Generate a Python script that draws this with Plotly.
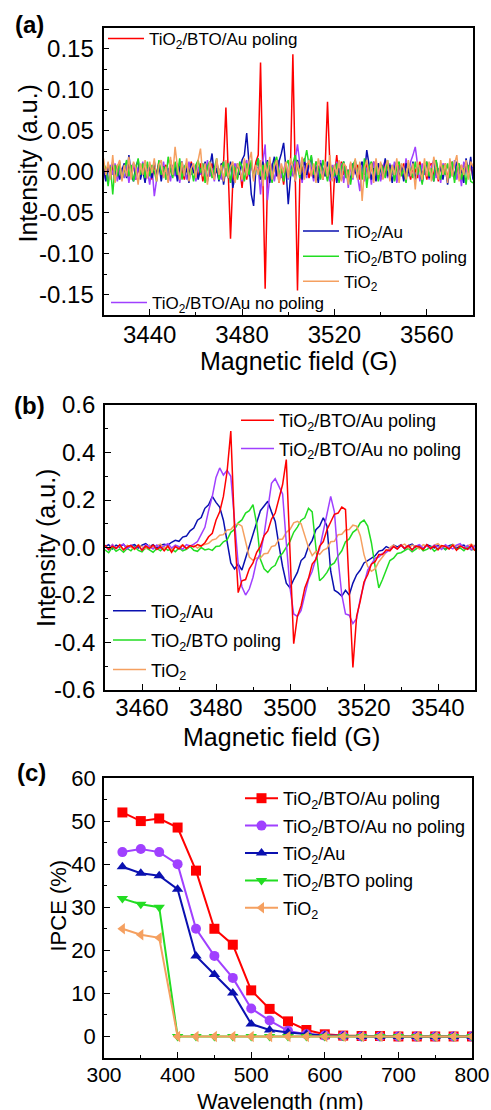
import plotly.graph_objects as go

# ---------------- data ----------------
# Panel (a): EPR spectra, field grid in G
a_field = list(range(3420, 3581))
a_bto_au_poling = [
    0.004, -0.008, 0.010, -0.004, 0.006, -0.012, 0.008, 0.002, -0.010, 0.006,
    -0.006, 0.010, -0.002, 0.008, -0.010, 0.004, -0.006, 0.010, 0.000, -0.008,
    0.006, -0.010, 0.008, -0.004, 0.012, -0.006, 0.002, 0.008, -0.012, 0.004,
    -0.004, 0.010, -0.008, 0.006, 0.002, -0.010, 0.008, -0.006, 0.012, -0.002,
    0.006, -0.008, 0.010, -0.012, 0.004, 0.008, -0.006, 0.010, -0.004, 0.002,
    -0.010, 0.008, 0.012, 0.078, 0.000, -0.082, -0.012, 0.006, -0.008, 0.004,
    -0.020, 0.008, -0.010, 0.006, 0.010, -0.006, 0.012, 0.020, 0.133, 0.000,
    -0.143, -0.010, 0.008, -0.012, 0.006, 0.010, -0.014, 0.004, -0.016, 0.008,
    -0.006, 0.010, 0.143, 0.000, -0.145, -0.010, 0.006, -0.004, 0.010, -0.008,
    0.004, -0.006, 0.012, -0.004, 0.008, -0.010, 0.006, 0.085, 0.010, -0.065,
    -0.006, 0.020, -0.010, 0.012, -0.004, 0.006, -0.008, 0.010, -0.006, 0.004,
    0.008, -0.010, 0.006, -0.004, 0.010, -0.008, 0.004, 0.012, -0.006, 0.002,
    -0.010, 0.008, -0.004, 0.010, -0.008, 0.006, 0.002, -0.012, 0.008, -0.004,
    0.010, -0.006, 0.004, -0.010, 0.008, 0.002, -0.008, 0.012, -0.004, 0.006,
    -0.010, 0.006, 0.010, -0.006, 0.004, -0.012, 0.008, -0.002, 0.010, -0.008,
    0.004, 0.012, -0.010, 0.006, -0.004, 0.008, -0.008, 0.014, -0.006, 0.010,
    -0.008]
a_bto_au_nopoling = [
    -0.010, 0.004, -0.014, 0.008, -0.004, 0.010, -0.012, 0.006, 0.002, -0.008,
    0.008, -0.014, 0.004, 0.010, -0.010, 0.006, -0.006, 0.012, -0.012, 0.002,
    -0.016, 0.006, -0.030, -0.008, 0.010, -0.004, 0.012, -0.010, 0.004, -0.012,
    0.008, -0.006, 0.010, -0.014, 0.006, 0.002, -0.010, 0.012, -0.004, 0.008,
    -0.012, 0.006, -0.004, 0.010, -0.008, 0.014, -0.006, 0.004, -0.012, 0.010,
    0.002, -0.010, 0.012, -0.006, 0.008, -0.014, 0.004, 0.010, -0.008, 0.006,
    -0.012, 0.008, 0.014, -0.006, 0.010, -0.010, 0.006, 0.004, -0.028, 0.012,
    0.033, -0.035, -0.006, 0.010, -0.012, 0.006, 0.014, -0.008, 0.004, 0.012,
    -0.010, 0.008, -0.006, 0.016, 0.033, 0.010, -0.014, 0.006, -0.008, 0.012,
    0.004, -0.012, 0.010, -0.006, 0.014, -0.010, 0.006, 0.002, -0.012, 0.008,
    -0.008, 0.012, -0.004, 0.010, -0.014, 0.006, -0.020, 0.008, -0.010, 0.014,
    -0.006, -0.024, 0.010, -0.012, 0.004, 0.008, -0.016, 0.012, -0.006, 0.010,
    -0.012, 0.006, 0.014, -0.008, 0.010, -0.004, 0.012, -0.014, 0.006, 0.008,
    -0.010, 0.016, -0.006, 0.012, 0.020, 0.030, 0.008, -0.012, 0.010, -0.004,
    0.012, -0.010, 0.006, 0.014, -0.008, 0.004, -0.014, 0.010, 0.002, -0.012,
    0.008, -0.006, 0.014, -0.010, 0.006, -0.018, 0.012, 0.004, -0.008, 0.010,
    0.004]
a_tio2_au = [
    0.008, -0.012, 0.004, -0.006, 0.012, -0.004, 0.006, -0.010, 0.002, 0.010,
    -0.008, 0.020, -0.004, -0.012, 0.006, 0.014, -0.010, 0.002, -0.014, 0.008,
    0.004, -0.008, 0.012, -0.006, 0.010, -0.012, 0.006, 0.000, -0.008, 0.014,
    -0.004, 0.008, -0.012, 0.006, 0.012, -0.006, 0.004, -0.014, 0.010, -0.002,
    0.008, -0.010, 0.004, -0.004, 0.012, -0.012, 0.006, 0.022, -0.006, 0.004,
    -0.012, 0.010, -0.016, 0.004, -0.008, 0.012, -0.020, -0.006, 0.010, -0.004,
    0.014, 0.020, 0.047, 0.010, -0.028, -0.042, 0.004, 0.016, -0.010, 0.012,
    -0.008, 0.014, -0.014, 0.006, 0.018, -0.006, 0.012, 0.022, 0.035, 0.004,
    -0.040, -0.006, 0.010, -0.012, 0.014, 0.004, -0.010, 0.016, -0.004, 0.008,
    0.018, -0.008, 0.006, -0.014, 0.010, 0.004, -0.006, 0.012, -0.002, -0.010,
    0.008, -0.014, 0.004, -0.010, 0.012, -0.006, 0.002, -0.012, 0.010, 0.000,
    -0.008, 0.006, 0.012, -0.004, 0.026, 0.008, -0.010, 0.004, -0.012, 0.010,
    0.002, -0.008, 0.016, -0.006, 0.008, -0.014, 0.004, 0.012, -0.008, 0.006,
    -0.012, 0.010, 0.000, -0.006, 0.012, -0.010, 0.004, 0.008, -0.014, 0.006,
    0.010, -0.008, 0.004, -0.012, 0.014, -0.004, 0.006, -0.010, 0.008, -0.016,
    0.004, 0.010, -0.008, 0.012, -0.006, 0.002, -0.014, 0.016, -0.004, 0.018,
    -0.010]
a_tio2_bto_poling = [
    0.010, 0.004, -0.018, 0.006, -0.028, 0.008, -0.006, 0.012, -0.010, 0.002,
    0.014, -0.006, 0.008, -0.012, 0.004, 0.016, -0.004, 0.010, -0.008, 0.012,
    -0.006, 0.008, 0.000, -0.012, 0.014, -0.004, 0.006, -0.010, 0.018, 0.002,
    -0.008, 0.012, -0.004, 0.016, -0.010, 0.006, 0.010, -0.006, 0.004, -0.012,
    0.008, 0.014, -0.002, 0.010, -0.014, 0.006, 0.012, -0.008, 0.004, 0.016,
    -0.010, 0.002, 0.012, -0.006, 0.010, -0.014, 0.008, 0.004, -0.010, 0.012,
    0.006, -0.012, 0.010, -0.004, 0.014, -0.008, 0.002, 0.016, -0.006, 0.008,
    -0.010, 0.012, 0.004, -0.014, 0.010, 0.018, -0.004, 0.006, -0.012, 0.008,
    0.014, -0.006, 0.010, 0.020, 0.004, -0.008, 0.016, 0.012, 0.026, 0.008,
    0.020, -0.004, 0.012, 0.006, -0.010, 0.014, 0.002, -0.012, 0.008, 0.004,
    -0.006, 0.010, -0.014, 0.006, 0.012, -0.008, 0.002, -0.016, 0.008, 0.014,
    -0.004, 0.010, -0.010, 0.016, -0.020, 0.006, 0.012, -0.006, 0.008, -0.012,
    0.010, 0.004, -0.008, 0.014, -0.004, 0.008, -0.012, 0.006, 0.012, -0.006,
    0.004, -0.014, 0.010, 0.002, -0.008, 0.012, -0.004, 0.008, -0.016, 0.006,
    0.012, -0.006, 0.004, -0.012, 0.014, 0.000, -0.010, 0.008, -0.004, 0.010,
    -0.008, 0.012, -0.014, 0.006, 0.010, -0.010, 0.004, -0.016, 0.008, -0.012,
    -0.014]
a_tio2 = [
    0.016, -0.004, 0.012, -0.010, 0.020, -0.014, 0.006, 0.014, -0.012, 0.008,
    -0.006, 0.018, -0.010, 0.012, 0.004, -0.016, 0.010, -0.004, 0.014, -0.008,
    0.012, -0.002, 0.016, -0.012, 0.008, 0.014, -0.008, 0.006, -0.014, 0.018,
    -0.004, 0.030, 0.006, -0.010, 0.012, -0.006, 0.016, -0.012, 0.004, 0.010,
    -0.008, 0.014, 0.028, -0.006, 0.010, -0.016, 0.012, 0.002, -0.010, 0.016,
    -0.004, 0.008, -0.012, 0.014, -0.008, 0.006, 0.012, -0.014, 0.010, 0.002,
    -0.010, 0.016, -0.006, 0.012, 0.024, -0.012, 0.008, -0.004, 0.014, -0.018,
    0.010, -0.006, 0.018, -0.010, 0.006, 0.014, -0.014, 0.010, -0.002, 0.012,
    -0.008, 0.016, 0.006, -0.012, 0.012, -0.004, 0.018, -0.010, 0.008, 0.014,
    -0.006, 0.010, -0.014, 0.016, 0.004, -0.010, 0.012, -0.006, 0.020, -0.012,
    0.008, -0.004, 0.014, -0.012, 0.010, 0.006, -0.016, 0.012, -0.008, 0.016,
    -0.010, 0.012, -0.036, 0.004, 0.014, -0.008, 0.010, -0.014, 0.016, -0.004,
    0.012, -0.010, 0.006, 0.014, -0.012, 0.008, -0.004, 0.016, -0.014, 0.010,
    0.004, -0.010, 0.014, -0.006, 0.010, -0.022, 0.012, 0.000, -0.010, 0.016,
    -0.006, 0.012, -0.012, 0.018, 0.004, -0.010, 0.014, -0.004, 0.010, -0.014,
    0.016, -0.006, 0.010, 0.020, -0.012, 0.008, -0.004, 0.014, -0.010, 0.012,
    0.006]

# Panel (b): EPR spectra
b_field = list(range(3450, 3551))
b_bto_au_poling = [
    0.010, -0.008, 0.006, -0.004, 0.012, -0.010, 0.004, 0.008, -0.006, 0.010,
    -0.012, 0.006, -0.004, 0.010, -0.008, 0.004, -0.014, 0.006, -0.020, 0.004,
    -0.006, 0.010, -0.004, 0.008, 0.002, 0.012, 0.006,
    0.020, 0.045, 0.060, 0.115, 0.150, 0.215, 0.320, 0.490, 0.080, -0.190,
    -0.140, -0.135, -0.090, -0.065, -0.020, 0.005, 0.050, 0.070, 0.120, 0.145,
    0.210, 0.265, 0.370, -0.020, -0.405, -0.290, -0.245, -0.170, -0.130, -0.070,
    -0.050, 0.005, 0.025, 0.075, 0.105, 0.140, 0.145, 0.170, 0.160, -0.170,
    -0.505, -0.290, -0.225, -0.145, -0.115, -0.070, -0.060, -0.030, -0.030, -0.010,
    -0.014, 0.004,
    -0.006, 0.010, -0.004, 0.008, -0.010, 0.006, 0.002, -0.008, 0.012, -0.004,
    0.006, -0.010, 0.008, 0.004, -0.006, 0.010, -0.012, 0.006, 0.000, -0.008,
    0.010, -0.014]
b_bto_au_nopoling = [
    0.006, -0.010, 0.012, -0.004, 0.008, 0.014, -0.006, 0.010, -0.002, 0.006,
    -0.010, 0.012, 0.004, -0.006, 0.010, -0.004, 0.008, 0.016, -0.002, 0.010,
    0.004, -0.008, 0.012, 0.006, 0.014,
    0.025, 0.055, 0.085, 0.155, 0.215, 0.295, 0.335, 0.305, 0.325, 0.300,
    0.120, -0.070, -0.165, -0.200, -0.175, -0.125, -0.055, -0.025, 0.055, 0.165,
    0.270, 0.290, 0.255, 0.225, 0.020, -0.170, -0.280, -0.290, -0.265, -0.205,
    -0.135, -0.100, -0.045, -0.005, 0.065, 0.135, 0.215, 0.150, -0.050, -0.200,
    -0.280, -0.285, -0.320, -0.300, -0.215, -0.155, -0.095, -0.070, -0.045, -0.040,
    -0.025, -0.020, -0.008,
    0.004, -0.006, 0.010, -0.002, 0.008, -0.010, 0.006, 0.012, -0.004, 0.008,
    -0.006, 0.010, 0.004, -0.008, 0.012, 0.002, -0.006, 0.010, 0.016, -0.004,
    0.008, -0.010, 0.006]
b_tio2_au = [
    0.004, 0.012, -0.006, 0.010, 0.002, 0.014, -0.004, 0.008, 0.012, -0.002,
    0.010, 0.016, 0.004, 0.012, -0.002, 0.010, 0.014,
    0.010, 0.022, 0.030, 0.026, 0.044, 0.048, 0.070, 0.082, 0.115, 0.126,
    0.165, 0.180, 0.215, 0.190, 0.170, 0.115, 0.020, -0.065, -0.090, -0.070,
    -0.095, -0.045, 0.000, 0.055, 0.095, 0.155, 0.175, 0.195, 0.150, 0.110,
    0.010, -0.080, -0.150, -0.170, -0.135, -0.105, -0.055, -0.040, 0.005, 0.030,
    0.075, 0.090, 0.125, 0.090, -0.100, -0.180, -0.190, -0.205, -0.180, -0.200,
    -0.150, -0.115, -0.095, -0.065, -0.055, -0.045, -0.035, -0.015, -0.012,
    0.004, -0.004, 0.010, 0.002, 0.012, -0.006, 0.008, 0.014, 0.000, 0.010,
    -0.004, 0.012, 0.006, -0.002, 0.010, 0.004, -0.008, 0.008, 0.012, -0.004,
    0.006, 0.010, -0.006, 0.004, 0.008]
b_tio2_bto_poling = [
    -0.010, -0.022, 0.002, -0.016, -0.006, -0.020, -0.004, -0.014, 0.004, -0.012,
    -0.018, 0.000, -0.010, -0.020, -0.004, -0.014, 0.002, -0.012, -0.006, -0.018,
    -0.002, -0.014, -0.008, 0.004, -0.012, -0.016, 0.000, -0.010, -0.006,
    -0.012, 0.004, 0.006, 0.024, 0.032, 0.064, 0.076, 0.104, 0.116, 0.145,
    0.155, 0.180, 0.100, -0.050, -0.090, -0.105, -0.085, -0.075, -0.040, -0.024,
    0.004, 0.026, 0.064, 0.086, 0.115, 0.125, 0.165, 0.150, 0.000, -0.140,
    -0.125, -0.105, -0.075, -0.065, -0.035, -0.014, 0.024, 0.036, 0.064, 0.076,
    0.104, 0.115, 0.090, 0.020, -0.080, -0.170, -0.135, -0.095, -0.055, -0.045,
    -0.025, -0.022,
    -0.012, -0.004, -0.018, -0.006, 0.004, -0.014, -0.008, 0.002, -0.016, -0.004,
    0.006, -0.010, 0.000, 0.012, -0.008, -0.002, -0.014, 0.004, -0.010, -0.006]
b_tio2 = [
    0.008, -0.006, 0.012, -0.002, 0.006, -0.010, 0.010, 0.002, -0.008, 0.012,
    0.004, -0.006, 0.010, -0.004, 0.008, 0.014, -0.002, 0.006, -0.010, 0.008,
    0.002, 0.012, -0.004, 0.006, 0.010, -0.002, 0.008,
    0.014, 0.018, 0.032, 0.036, 0.052, 0.054, 0.074, 0.076, 0.094, 0.100,
    0.090, 0.020, -0.040, -0.054, -0.044, -0.044, -0.026, -0.024, 0.004, 0.008,
    0.034, 0.036, 0.064, 0.076, 0.104, 0.110, 0.100, 0.050, 0.000, -0.034,
    -0.016, -0.029, -0.011, -0.004, 0.024, 0.026, 0.054, 0.056, 0.074, 0.076,
    0.094, 0.090, 0.050, -0.030, -0.080, -0.100, -0.090, -0.060, -0.040, -0.020,
    0.000,
    0.010, -0.004, 0.008, 0.014, -0.002, 0.010, 0.004, -0.006, 0.012, 0.006,
    -0.002, 0.010, 0.016, 0.002, 0.008, -0.004, 0.012, 0.006, 0.010, -0.002,
    0.008, 0.014, 0.004]

# Panel (c): IPCE
c_wavelength = [325, 350, 375, 400, 425, 450, 475, 500, 525, 550,
                575, 600, 625, 650, 675, 700, 725, 750, 775, 800]
c_bto_au_poling = [52.0, 50.0, 50.6, 48.5, 38.5, 25.0, 21.3, 10.7, 6.4, 3.5,
                   1.5, 0.5, 0.2, 0.1, 0.1, 0.0, 0.0, 0.0, 0.0, 0.0]
c_bto_au_nopoling = [42.8, 43.5, 42.8, 40.0, 25.0, 18.7, 13.6, 6.5, 3.7, 1.3,
                     0.5, 0.2, 0.1, 0.0, 0.0, 0.0, 0.0, 0.0, 0.0, 0.0]
c_tio2_au = [39.4, 37.9, 37.3, 34.2, 18.7, 14.4, 10.1, 2.9, 1.5, 0.9,
             0.5, 0.2, 0.1, 0.0, 0.0, 0.0, 0.0, 0.0, 0.0, 0.0]
c_tio2_bto_poling = [32.0, 30.7, 30.0, 0.0, 0.0, 0.0, 0.0, 0.0, 0.0, 0.0,
                     0.0, 0.0, 0.0, 0.0, 0.0, 0.0, 0.0, 0.0, 0.0, 0.0]
c_tio2 = [25.0, 23.6, 22.9, 0.0, 0.0, 0.0, 0.0, 0.0, 0.0, 0.0,
          0.0, 0.0, 0.0, 0.0, 0.0, 0.0, 0.0, 0.0, 0.0, 0.0]

# Tick labels
a_ytick_vals = [-0.15, -0.10, -0.05, 0.00, 0.05, 0.10, 0.15]
a_ytick_text = ["-0.15", "-0.10", "-0.05", "0.00", "0.05", "0.10", "0.15"]
b_ytick_vals = [-0.6, -0.4, -0.2, 0.0, 0.2, 0.4, 0.6]
b_ytick_text = ["-0.6", "-0.4", "-0.2", "0.0", "0.2", "0.4", "0.6"]
c_ytick_vals = [0, 10, 20, 30, 40, 50, 60]

# Series names
N_POL = "TiO<sub>2</sub>/BTO/Au poling"
N_NOPOL = "TiO<sub>2</sub>/BTO/Au no poling"
N_AU = "TiO<sub>2</sub>/Au"
N_BTO = "TiO<sub>2</sub>/BTO poling"
N_TIO2 = "TiO<sub>2</sub>"

RED = "#ff0000"
PURPLE = "#a040ff"
BLUE = "#0a10b0"
GREEN = "#22dd22"
ORANGE = "#f5a060"

FONT = "Arial, 'Liberation Sans', sans-serif"
W, H = 491, 1110


def px_x(p):
    return p / W


def px_y(p):
    return 1 - p / H


fig = go.Figure()

# ---- panel (a) ----
for i, (name, ys, col, lg) in enumerate([
    (N_POL, a_bto_au_poling, RED, "legend"),
    (N_NOPOL, a_bto_au_nopoling, PURPLE, "legend3"),
    (N_AU, a_tio2_au, BLUE, "legend2"),
    (N_BTO, a_tio2_bto_poling, GREEN, "legend2"),
    (N_TIO2, a_tio2, ORANGE, "legend2"),
]):
    fig.add_trace(go.Scatter(x=a_field, y=ys, mode="lines", name=name,
                             line=dict(color=col, width=1.5), showlegend=True,
                             xaxis="x", yaxis="y", legend=lg, legendgroup="a%d" % i))

# ---- panel (b) ----
for i, (name, ys, col, lg, rank) in enumerate([
    (N_AU, b_tio2_au, BLUE, "legend5", 1),
    (N_BTO, b_tio2_bto_poling, GREEN, "legend5", 2),
    (N_TIO2, b_tio2, ORANGE, "legend5", 3),
    (N_NOPOL, b_bto_au_nopoling, PURPLE, "legend4", 5),
    (N_POL, b_bto_au_poling, RED, "legend4", 4),
]):
    fig.add_trace(go.Scatter(x=b_field, y=ys, mode="lines", name=name,
                             line=dict(color=col, width=1.5), showlegend=True,
                             legendrank=rank,
                             xaxis="x2", yaxis="y2", legend=lg, legendgroup="b%d" % i))

# ---- panel (c) ----
for i, (name, ys, col, sym) in enumerate([
    (N_POL, c_bto_au_poling, RED, "square"),
    (N_NOPOL, c_bto_au_nopoling, PURPLE, "circle"),
    (N_AU, c_tio2_au, BLUE, "triangle-up"),
    (N_BTO, c_tio2_bto_poling, GREEN, "triangle-down"),
    (N_TIO2, c_tio2, ORANGE, "triangle-left"),
]):
    fig.add_trace(go.Scatter(x=c_wavelength, y=ys, mode="lines+markers", name=name,
                             line=dict(color=col, width=2), showlegend=True,
                             marker=dict(color=col, symbol=sym, size=10,
                                         line=dict(width=0)),
                             xaxis="x3", yaxis="y3", legend="legend6",
                             legendgroup="c%d" % i))


def axis(**kw):
    d = dict(showline=True, linecolor="black", linewidth=1.8, mirror=True,
             ticks="inside", ticklen=6, tickwidth=1.4, tickcolor="black",
             showgrid=False, zeroline=False, automargin=False,
             tickfont=dict(family=FONT, size=24, color="black"),
             minor=dict(ticks="inside", ticklen=3.5, tickwidth=1.2,
                        tickcolor="black", showgrid=False))
    for k, v in kw.items():
        if k == "minor":
            d["minor"].update(v)
        else:
            d[k] = v
    return d


fig.update_layout(
    width=W, height=H,
    showlegend=True,
    margin=dict(l=0, r=0, t=0, b=0, autoexpand=False),
    paper_bgcolor="white", plot_bgcolor="white",
    font=dict(family=FONT, color="black"),
    xaxis=axis(domain=[px_x(103.5), px_x(473)], anchor="y", range=[3420, 3580],
               tick0=3440, dtick=40, minor=dict(dtick=20, tick0=3420),
               ticklabelstandoff=-3),
    yaxis=axis(domain=[px_y(315), px_y(28)], anchor="x", range=[-0.175, 0.175],
               tickvals=a_ytick_vals, ticktext=a_ytick_text,
               minor=dict(dtick=0.025, tick0=0), ticklabelstandoff=3),
    xaxis2=axis(domain=[px_x(105), px_x(475)], anchor="y2", range=[3450, 3550],
                tick0=3460, dtick=20, minor=dict(dtick=10, tick0=3450),
                ticklabelstandoff=-5),
    yaxis2=axis(domain=[px_y(690), px_y(405)], anchor="x2", range=[-0.6, 0.6],
                tickvals=b_ytick_vals, ticktext=b_ytick_text,
                minor=dict(dtick=0.1, tick0=0), ticklabelstandoff=3),
    xaxis3=axis(domain=[px_x(104), px_x(472)], anchor="y3", range=[300, 800],
                tick0=300, dtick=100, minor=dict(dtick=50, tick0=300),
                tickfont=dict(family=FONT, size=21, color="black"),
                ticklabelstandoff=-3),
    yaxis3=axis(domain=[px_y(1058), px_y(778)], anchor="x3", range=[-5, 60],
                tickvals=c_ytick_vals, minor=dict(dtick=5, tick0=0),
                tickfont=dict(family=FONT, size=22, color="black"),
                ticklabelstandoff=2),
)

leg_common = dict(bgcolor="rgba(0,0,0,0)", borderwidth=0, xanchor="left", yanchor="top",
                  font=dict(family=FONT, size=17, color="black"), itemwidth=33,
                  traceorder="grouped", tracegroupgap=0, visible=True)
leg18 = dict(family=FONT, size=18, color="black")
fig.update_layout(
    legend=dict(leg_common, x=px_x(103), y=px_y(21), itemwidth=36),
    legend2=dict(leg_common, x=px_x(298), y=px_y(213.5), itemwidth=36),
    legend3=dict(leg_common, x=px_x(106), y=px_y(285), itemwidth=36),
    legend4=dict(leg_common, x=px_x(236), y=px_y(402), tracegroupgap=2, font=leg18),
    legend5=dict(leg_common, x=px_x(108), y=px_y(592.5), tracegroupgap=3, font=leg18),
    legend6=dict(leg_common, x=px_x(240), y=px_y(780), tracegroupgap=1, font=leg18),
)

# panel letters
for txt, cx, cy in [("(a)", 29, 25), ("(b)", 29, 405), ("(c)", 31, 772)]:
    fig.add_annotation(text="<b>" + txt + "</b>", xref="paper", yref="paper",
                       x=px_x(cx), y=px_y(cy), xanchor="center", yanchor="middle",
                       showarrow=False, font=dict(family=FONT, size=24, color="black"))

# axis titles
for txt, cx, cy, ang, size in [
    ("Magnetic field (G)", 298, 361, 0, 25),
    ("Intensity (a.u.)", 27.5, 164, -90, 25),
    ("Magnetic field (G)", 281, 737, 0, 25),
    ("Intensity (a.u.)", 46, 548, -90, 25),
    ("Wavelength (nm)", 280, 1101, 0, 22),
    ("IPCE (%)", 57.5, 906, -90, 22),
]:
    fig.add_annotation(text=txt, xref="paper", yref="paper", x=px_x(cx), y=px_y(cy),
                       xanchor="center", yanchor="middle", showarrow=False,
                       textangle=ang, font=dict(family=FONT, size=size, color="black"))

# remove the default 8px page margin so the figure fills the window
fig.write_html("out.html", config={"displayModeBar": False},
               post_script="document.body.style.margin='0px';")
